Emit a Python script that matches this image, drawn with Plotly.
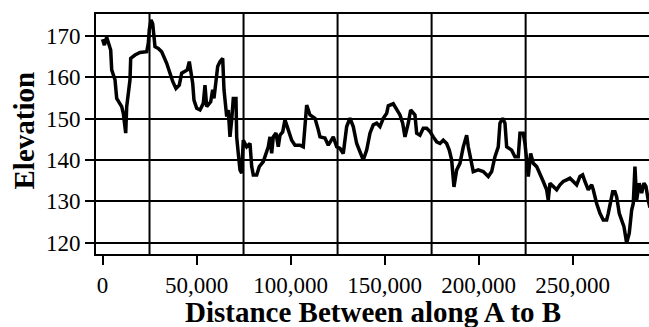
import plotly.graph_objects as go

# Elevation profile sampled along the route from A to B
distance = [
    0, 1000, 2230, 3080, 4360, 4890, 6650, 7550, 10210, 11060,
    12340, 12870, 14250, 14620, 14990, 17280, 19940, 23500, 24350, 24880,
    25790, 26690, 27910, 29670, 31480, 34140, 35890, 37330, 39080, 40830,
    42110, 43860, 45090, 46150, 46900, 47960, 48650, 50090, 51840, 53600,
    54500, 55400, 57530, 58590, 59280, 60350, 61250, 62470, 63910, 64600,
    66040, 66890, 67790, 68700, 69550, 70980, 71350, 72200, 73110, 74010,
    74860, 76670, 78430, 79330, 80180, 81990, 83370, 85500, 88160, 89060,
    89960, 90810, 92250, 93470, 94380, 95810, 97030, 98790, 100600, 102350,
    105010, 106770, 108570, 110330, 112990, 114740, 115640, 118300, 120060, 122720,
    124520, 126280, 128030, 129840, 131590, 133350, 135160, 136910, 138670, 140470,
    142230, 143980, 145790, 147540, 149300, 151110, 151960, 154620, 156420, 158180,
    159620, 160840, 162590, 163870, 166150, 167060, 168810, 170570, 172380, 174130,
    175890, 177690, 179450, 181200, 183010, 184390, 185670, 186890, 188330, 190080,
    191840, 193640, 194500, 195400, 197150, 199810, 202470, 205130, 206940, 208690,
    210450, 211350, 212790, 214010, 214910, 217570, 219330, 221080, 221990, 223740,
    224650, 225550, 226400, 227680, 229060, 230870, 232620, 234380, 236180, 237030,
    237940, 239690, 241500, 243250, 245010, 246820, 248570, 250330, 252130, 253890,
    255320, 256550, 258300, 260110, 260960, 262770, 264520, 266280, 268080, 268940,
    270210, 271270, 272500, 273400, 274780, 276060, 277280, 278720, 280100, 281380,
    282230, 283130, 284030, 285410, 286690, 287910, 288980, 290200, 291100,
]
elevation = [
    169.2, 167.8, 169.7, 168.2, 166.6, 161.8, 159.4, 154.9, 152.9, 151.3,
    146.5, 152.9, 157.0, 159.4, 164.6, 165.4, 166.0, 166.2, 168.2, 171.5,
    173.9, 173.0, 167.4, 167.0, 166.2, 163.4, 161.0, 159.0, 157.3, 158.1,
    161.0, 161.4, 161.8, 163.8, 161.4, 158.6, 154.5, 152.5, 152.1, 153.7,
    158.1, 152.9, 154.1, 157.0, 154.9, 159.8, 162.6, 163.8, 164.6, 157.0,
    150.5, 152.1, 145.6, 149.7, 154.9, 154.9, 145.6, 141.6, 137.6, 136.8,
    144.8, 143.2, 144.0, 138.4, 136.4, 136.4, 138.4, 139.6, 143.2, 145.6,
    141.6, 145.6, 146.5, 143.2, 146.0, 146.8, 149.7, 147.3, 144.8, 143.6,
    143.6, 143.2, 153.3, 150.9, 150.1, 147.3, 145.6, 145.3, 143.6, 145.6,
    143.2, 142.8, 141.6, 148.1, 150.1, 148.1, 144.0, 142.0, 140.0, 142.4,
    146.5, 148.5, 148.9, 148.1, 150.1, 151.3, 153.1, 153.6, 152.1, 150.9,
    148.9, 145.6, 148.9, 152.1, 150.9, 146.5, 146.0, 147.7, 147.7, 146.9,
    145.6, 144.4, 144.0, 144.8, 144.0, 142.4, 140.0, 133.5, 137.6, 139.2,
    143.2, 146.0, 143.2, 140.8, 137.2, 137.6, 137.2, 136.0, 137.2, 140.8,
    143.2, 148.9, 150.1, 148.9, 143.2, 142.4, 140.8, 140.8, 146.5, 146.5,
    144.0, 140.0, 136.0, 141.6, 139.2, 138.4, 136.8, 134.8, 132.8, 130.3,
    134.4, 133.6, 132.8, 134.0, 134.8, 135.2, 135.6, 134.8, 134.0, 136.0,
    136.4, 134.8, 132.8, 134.0, 132.8, 129.5, 127.1, 125.5, 125.5, 127.1,
    130.3, 132.3, 132.3, 131.1, 127.1, 125.5, 123.9, 119.9, 122.3, 127.9,
    129.5, 138.4, 130.3, 134.4, 132.0, 134.4, 133.6, 130.3, 128.5,
]

x_ticks = [0, 50000, 100000, 150000, 200000, 250000]
x_tick_labels = ["0", "50,000", "100,000", "150,000", "200,000", "250,000"]
y_ticks = [120, 130, 140, 150, 160, 170]
x_grid = [25000, 75000, 125000, 175000, 225000]

serif = "Liberation Serif"

fig = go.Figure()
fig.add_trace(go.Scatter(
    x=distance, y=elevation, mode="lines",
    line=dict(color="black", width=3.5),
    hoverinfo="skip", showlegend=False,
))

# vertical grid lines sit half-way between the labelled ticks
for gx in x_grid:
    fig.add_shape(type="line", xref="x", yref="paper", x0=gx, x1=gx, y0=0, y1=1,
                  line=dict(color="black", width=2), layer="below")

fig.update_layout(
    width=649, height=327,
    margin=dict(l=96, r=0, t=14, b=73),
    paper_bgcolor="white", plot_bgcolor="white",
    font=dict(family=serif, color="black", size=23),
    xaxis=dict(
        range=[-3456, 290600], tickvals=x_ticks, ticktext=x_tick_labels,
        showgrid=False, zeroline=False,
        showline=True, linecolor="black", linewidth=2, mirror=True,
        ticks="outside", ticklen=9, tickwidth=2, tickcolor="black",
        tickfont=dict(family=serif, size=23, color="black"),
    ),
    yaxis=dict(
        range=[117.27, 175.32], tickvals=y_ticks,
        showgrid=True, gridcolor="black", gridwidth=2, zeroline=False,
        showline=True, linecolor="black", linewidth=2,
        ticks="outside", ticklen=9, tickwidth=2, tickcolor="black",
        tickfont=dict(family=serif, size=23, color="black"),
    ),
    annotations=[
        dict(text="Distance Between along A to B", xref="paper", yref="paper",
             x=0.5, y=(254 - 312) / 240, xanchor="center", yanchor="middle",
             showarrow=False, font=dict(family=serif, size=29, color="black", weight="bold")),
        dict(text="Elevation", xref="paper", yref="paper",
             x=(23 - 96) / 553, y=(254 - 130.5) / 240, xanchor="center", yanchor="middle",
             textangle=-90, showarrow=False,
             font=dict(family=serif, size=29, color="black", weight="bold")),
    ],
)

fig.write_html("out.html")
